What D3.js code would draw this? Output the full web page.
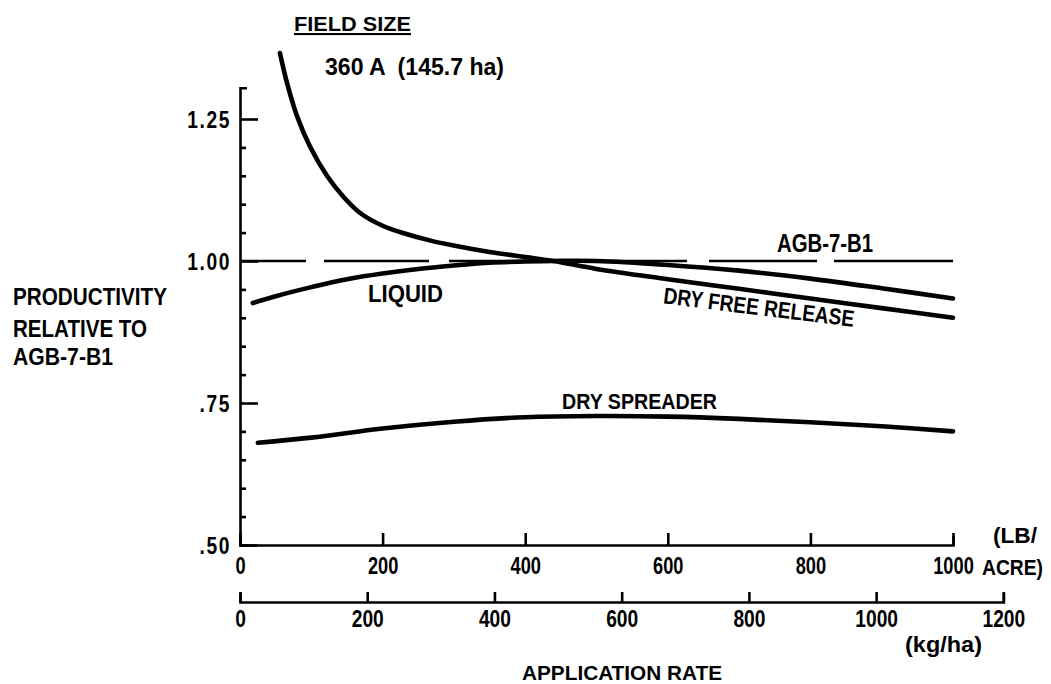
<!DOCTYPE html>
<html>
<head>
<meta charset="utf-8">
<script src="https://cdn.jsdelivr.net/npm/d3@7"></script>
<style>
  html, body { margin: 0; padding: 0; background: #fff; }
  svg { display: block; }
  text { font-family: "Liberation Sans", Arial, sans-serif; font-weight: bold; fill: #000; }
</style>
</head>
<body>
<svg id="chart" width="1051" height="684"></svg>
<script>
// ---- data (x in LB/ACRE, y = productivity relative to AGB-7-B1) ----
const lbTicks = [0, 200, 400, 600, 800, 1000];
const kgTicks = [0, 200, 400, 600, 800, 1000, 1200];
const yTicks = [0.50, 0.75, 1.00, 1.25];
const yTickLabels = [".50", ".75", "1.00", "1.25"];

const dryFreeReleaseX = [56, 66, 80, 98, 122, 145, 168, 200, 224, 270, 318, 350, 400, 440, 500, 600, 700, 800, 900, 1000];
const dryFreeReleaseY = [1.366, 1.313, 1.255, 1.202, 1.150, 1.113, 1.085, 1.062, 1.051, 1.035, 1.023, 1.016, 1.007, 1.000, 0.986, 0.968, 0.951, 0.934, 0.917, 0.900];

const liquidX = [18, 50, 100, 150, 200, 250, 300, 350, 400, 440, 500, 600, 700, 800, 900, 1000];
const liquidY = [0.926, 0.938, 0.954, 0.968, 0.978, 0.986, 0.992, 0.997, 0.999, 1.000, 1.000, 0.993, 0.983, 0.969, 0.952, 0.934];

const drySpreaderX = [25, 100, 200, 300, 400, 500, 600, 700, 800, 900, 1000];
const drySpreaderY = [0.680, 0.689, 0.705, 0.717, 0.725, 0.727, 0.726, 0.722, 0.716, 0.709, 0.700];

const referenceX = [0, 1000];
const referenceY = [1.00, 1.00];

const LB_TO_KG = 1.12085;

// ---- scales ----
const svg = d3.select("#chart");
const x = d3.scaleLinear().domain([0, 1000]).range([240, 953]);
const y = d3.scaleLinear().domain([0.5, 1.25]).range([545, 119]);
const kg = d3.scaleLinear().domain([0, 1200]).range([x(0), x(1200 / LB_TO_KG)]);
const yAxisScale = y.copy().domain([0.5, 1.305]).range([y(0.5), y(1.305)]);

const axisStroke = 2.6;
const SX = 0.8; // horizontal condensing of tick labels
function styleAxis(g) {
  g.select(".domain").attr("stroke", "#000").attr("stroke-width", axisStroke).attr("fill", "none");
  g.selectAll(".tick line").attr("stroke", "#000").attr("stroke-width", axisStroke);
  g.selectAll(".tick text").attr("font-size", 24).attr("fill", "#000")
    .attr("font-family", '"Liberation Sans", Arial, sans-serif')
    .attr("font-weight", "bold");
}

// minor y ticks
const minorY = d3.range(0.55, 1.30, 0.05).filter(v => !yTicks.some(t => Math.abs(t - v) < 1e-6));
const gMinor = svg.append("g").attr("transform", `translate(${x(0)},0)`)
  .call(d3.axisLeft(yAxisScale).tickValues(minorY).tickSizeInner(-6).tickSizeOuter(0).tickFormat(""));
styleAxis(gMinor);
gMinor.select(".domain").remove();

// y axis
const gy = svg.append("g").attr("transform", `translate(${x(0)},0)`)
  .call(d3.axisLeft(yAxisScale).tickValues(yTicks).tickSizeInner(-18).tickSizeOuter(-7).tickPadding(10)
    .tickFormat((d, i) => yTickLabels[i]));
styleAxis(gy);
gy.selectAll(".tick text").attr("letter-spacing", 2)
  .attr("x", -9 / SX).attr("dy", "0.36em").attr("transform", `scale(${SX},1)`);

// x axis (lb/acre)
const gx = svg.append("g").attr("transform", `translate(0,${y(0.5)})`)
  .call(d3.axisBottom(x).tickValues(lbTicks).tickFormat(d3.format("d"))
    .tickSizeInner(-12).tickSizeOuter(-9).tickPadding(12));
styleAxis(gx);
gx.selectAll(".tick text").attr("dy", "0.72em").attr("transform", `scale(0.76,1)`);

// kg/ha axis
const gk = svg.append("g").attr("transform", `translate(0,602)`)
  .call(d3.axisBottom(kg).tickValues(kgTicks).tickFormat(d3.format("d"))
    .tickSizeInner(-10).tickSizeOuter(-9).tickPadding(8));
styleAxis(gk);
gk.selectAll(".tick text").attr("dy", "0.72em").attr("transform", `scale(${SX},1)`);

// ---- lines ----
const line = d3.line().x(d => x(d[0])).y(d => y(d[1])).curve(d3.curveCatmullRom.alpha(0.5));
const zip = (a, b) => a.map((v, i) => [v, b[i]]);

svg.append("path").datum(zip(referenceX, referenceY))
  .attr("d", d3.line().x(d => x(d[0])).y(d => y(d[1])))
  .attr("fill", "none").attr("stroke", "#000").attr("stroke-width", 2.6)
  .attr("stroke-dasharray", "66 18 105 20 238 22 108 17 130");

[[liquidX, liquidY], [dryFreeReleaseX, dryFreeReleaseY], [drySpreaderX, drySpreaderY]].forEach(([xs, ys]) => {
  svg.append("path").datum(zip(xs, ys))
    .attr("d", line)
    .attr("fill", "none").attr("stroke", "#000").attr("stroke-width", 4.6)
    .attr("stroke-linecap", "round").attr("stroke-linejoin", "round");
});

// ---- text ----
function label(txt, px, py, width, opts = {}) {
  const t = svg.append("text").attr("x", px).attr("y", py).text(txt)
    .attr("font-size", opts.size || 22)
    .attr("text-anchor", opts.anchor || "start")
    .attr("textLength", width)
    .attr("lengthAdjust", "spacingAndGlyphs")
    .style("white-space", "pre");
  if (opts.rotate) t.attr("transform", `rotate(${opts.rotate},${px},${py})`);
  if (opts.underline) t.attr("text-decoration", "underline");
  return t;
}

label("FIELD SIZE", 294, 31, 117, { size: 21, underline: true });
label("360 A  (145.7 ha)", 325, 75, 179, { size: 24 });

label("PRODUCTIVITY", 13, 305, 154, { size: 24 });
label("RELATIVE TO", 13, 337, 134, { size: 24 });
label("AGB-7-B1", 13, 365, 100, { size: 24 });

label("LIQUID", 368, 302, 75, { size: 23 });
label("AGB-7-B1", 777, 252, 96, { size: 25 });
label("DRY FREE RELEASE", 758, 315, 192, { size: 23, anchor: "middle", rotate: 7 });
label("DRY SPREADER", 562, 409, 155, { size: 22 });

label("(LB/", 993, 543, 44, { size: 22 });
label("ACRE)", 982, 575, 61, { size: 22 });
label("(kg/ha)", 905, 652, 77, { size: 22 });
label("APPLICATION RATE", 522, 680, 200, { size: 20 });
</script>
</body>
</html>
